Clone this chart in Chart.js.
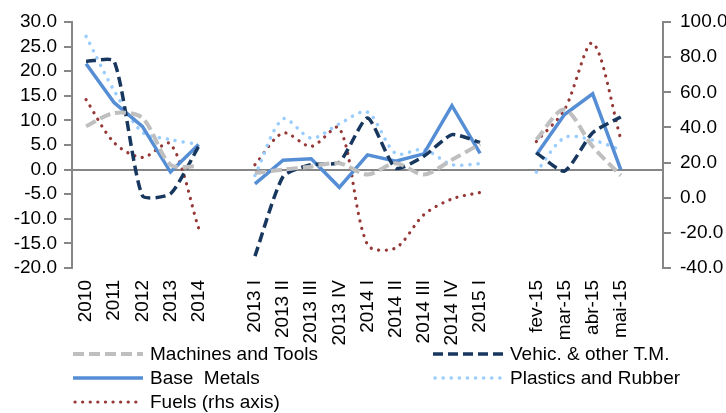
<!DOCTYPE html>
<html>
<head>
<meta charset="utf-8">
<script src="https://cdn.jsdelivr.net/npm/chart.js@4"></script>
<style>
  body { margin: 0; background: #fff; }
  #wrap { position: relative; width: 726px; height: 413px; }
</style>
</head>
<body>
<div id="wrap"><canvas id="chart"></canvas></div>
<script>
// categorias (los '' son huecos entre bloques)
const labels = ["2010", "2011", "2012", "2013", "2014", "",
  "2013 I", "2013 II", "2013 III", "2013 IV", "2014 I", "2014 II", "2014 III", "2014 IV", "2015 I", "",
  "fev-15", "mar-15", "abr-15", "mai-15", ""];

const machines = [8.8, 11.5, 10.5, 1.0, 0.7, null,
  -0.7, 0.0, 0.6, 1.3, -1.0, 1.3, -1.0, 2.0, 5.2, null,
  6.1, 12.2, 4.7, -1.2, null];
const vehic = [22.0, 22.0, -5.3, -4.9, 4.7, null,
  -17.6, -1.4, 1.0, 1.5, 10.5, 0.3, 2.7, 7.1, 5.5, null,
  3.4, -0.3, 7.5, 10.7, null];
const baseMetals = [21.5, 13.6, 8.8, -0.5, 5.1, null,
  -2.9, 1.9, 2.2, -3.6, 3.0, 1.7, 3.2, 13.0, 3.3, null,
  3.0, 11.2, 15.4, 0.0, null];
const plastics = [27.1, 16.0, 7.6, 6.1, 5.1, null,
  -1.2, 10.3, 6.4, 9.3, 11.7, 3.3, 4.1, 1.0, 1.2, null,
  -0.5, 6.5, 6.0, 4.0, null];
const fuels = [55.8, 31.3, 22.9, 30.7, -17.3, null,
  18.8, 36.8, 29.2, 39.7, -26.8, -28.6, -9.7, -0.7, 3.0, null,
  32.0, 50.1, 88.0, 33.4, null];

const leftTicks = { min: -20, max: 30, step: 5 };
const rightTicks = { min: -40, max: 100, step: 20 };

Chart.defaults.font.family = "'Liberation Sans', Arial, sans-serif";
Chart.defaults.font.size = 19;
Chart.defaults.color = "#000";

// leyenda en dos columnas, dibujada a mano
const legendPlugin = {
  id: "legendaAbajo",
  afterDraw(chart) {
    const c = chart.ctx;
    const slots = [[73, 354], [433, 354], [73, 378], [433, 378], [73, 402]];
    chart.data.datasets.forEach((ds, i) => {
      const [x, y] = slots[i];
      c.save();
      c.strokeStyle = ds.borderColor;
      c.lineWidth = ds.borderWidth;
      c.lineCap = ds.borderCapStyle || "butt";
      c.setLineDash(ds.borderDash || []);
      c.beginPath();
      c.moveTo(x + (ds.legendInset || 0), y);
      c.lineTo(x + 70, y);
      c.stroke();
      c.restore();
      c.save();
      c.fillStyle = "#000";
      c.font = "19px 'Liberation Sans', Arial, sans-serif";
      c.textBaseline = "middle";
      c.fillText(ds.label, x + 77, y + 1);
      c.restore();
    });
  }
};

const ctx = document.getElementById("chart").getContext("2d");

new Chart(ctx, {
  type: "line",
  data: {
    labels: labels,
    datasets: [
      {
        label: "Machines and Tools",
        data: machines,
        borderColor: "#BFBFBF",
        borderWidth: 4,
        borderDash: [11, 5],
        tension: 0.3,
        yAxisID: "y",
      },
      {
        label: "Vehic. & other T.M.",
        data: vehic,
        borderColor: "#17375E",
        borderWidth: 3.5,
        borderDash: [10, 5],
        tension: 0.2,
        yAxisID: "y",
      },
      {
        label: "Base  Metals",
        data: baseMetals,
        borderColor: "#558ED5",
        borderWidth: 3.5,
        tension: 0,
        yAxisID: "y",
      },
      {
        label: "Plastics and Rubber",
        data: plastics,
        borderColor: "#99CCFF",
        borderWidth: 3.5,
        borderDash: [0.1, 8],
        borderCapStyle: "round",
        legendInset: 2,
        tension: 0.3,
        yAxisID: "y",
      },
      {
        label: "Fuels (rhs axis)",
        data: fuels,
        borderColor: "#953735",
        borderWidth: 3.2,
        borderDash: [0.1, 7.5],
        borderCapStyle: "round",
        legendInset: 2,
        tension: 0.3,
        yAxisID: "y1",
      },
    ],
  },
  options: {
    responsive: true,
    maintainAspectRatio: false,
    animation: false,
    spanGaps: false,
    elements: { point: { radius: 0 } },
    layout: { padding: { top: 22, left: 0, right: 0, bottom: 0 } },
    plugins: { legend: { display: false }, tooltip: { enabled: false } },
    scales: {
      x: {
        offset: true,
        grid: { display: false, drawTicks: false, offset: true },
        border: { display: false },
        ticks: { autoSkip: false, minRotation: 90, maxRotation: 90, padding: 12 },
        afterFit: (s) => { s.height = 145; },
      },
      y: {
        position: "left",
        min: leftTicks.min,
        max: leftTicks.max,
        ticks: { stepSize: leftTicks.step, autoSkip: false, padding: 7, callback: (v) => v.toFixed(1) },
        grid: {
          color: (c) => (c.tick && c.tick.value === 0 ? "#868686" : "rgba(0,0,0,0)"),
          tickColor: "#868686",
          tickLength: 8,
          lineWidth: 2,
        },
        border: { display: true, color: "#868686", width: 2 },
        afterFit: (s) => { s.width = 72; },
      },
      y1: {
        position: "right",
        min: rightTicks.min,
        max: rightTicks.max,
        ticks: { stepSize: rightTicks.step, autoSkip: false, padding: 9, callback: (v) => v.toFixed(1) },
        grid: { drawOnChartArea: false, tickColor: "#868686", tickLength: 8, lineWidth: 2 },
        border: { display: true, color: "#868686", width: 2 },
        afterFit: (s) => { s.width = 63; },
      },
    },
  },
  plugins: [legendPlugin],
});
</script>
</body>
</html>
